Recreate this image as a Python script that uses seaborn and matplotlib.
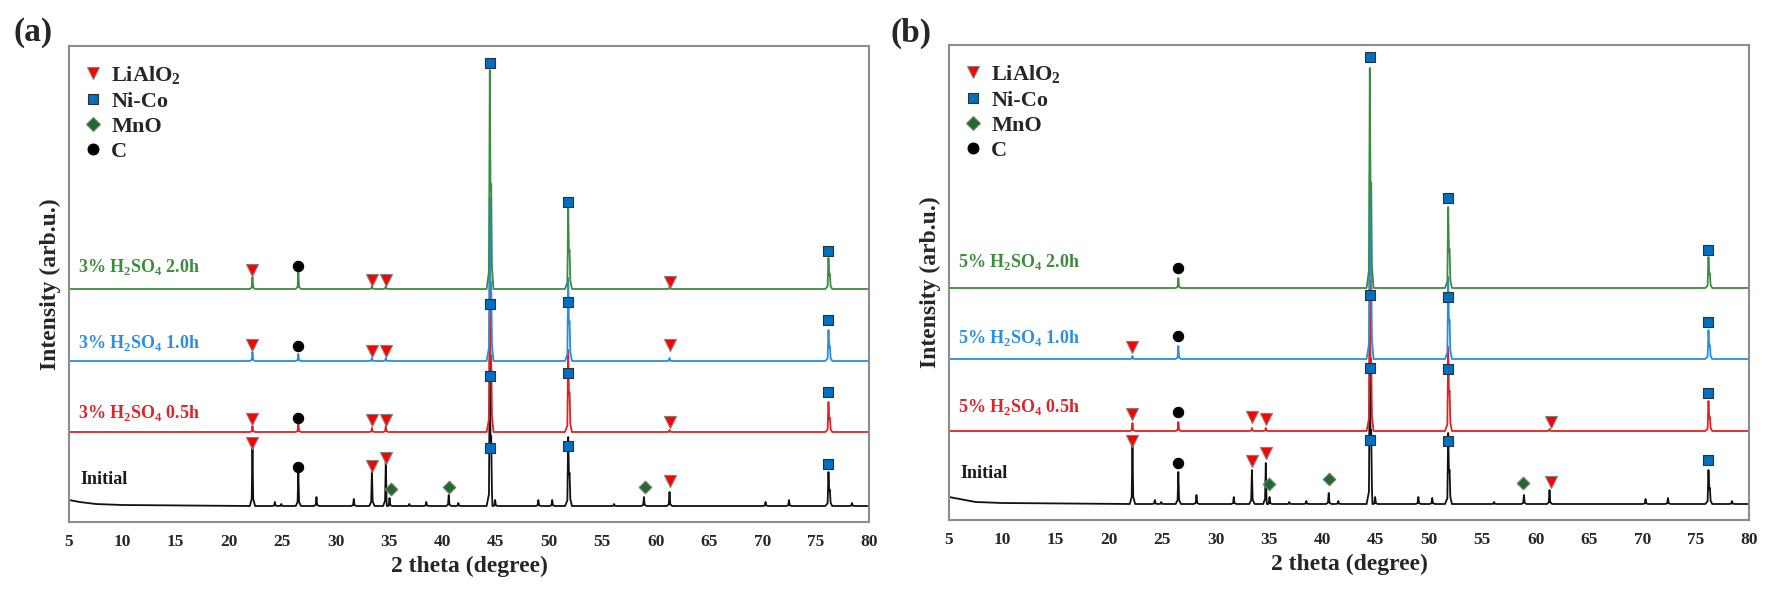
import matplotlib
matplotlib.use('Agg')
import matplotlib.pyplot as plt
from matplotlib.lines import Line2D
import pandas as pd
import seaborn as sns

# ---- data (intensity in arbitrary units, stacked offsets) ----
samples = ['Initial', '0.5h', '1.0h', '2.0h']
x_ticks = list(range(5, 81, 5))
nico_pos = [44.45, 51.8, 76.2]          # Ni-Co reflections (show K-alpha2 shoulder)

# panel (a): 3% H2SO4
a_base = [16, 90, 161, 233]
a_label_y = [43, 109, 179, 255]
a_start_initial = [(5, 22), (6, 20), (7.5, 18), (10, 17)]
a_initial = [(22.2, 75), (24.3, 20), (24.9, 18), (26.5, 50), (28.2, 25), (31.7, 23),
             (33.4, 52), (34.7, 60), (35.05, 24), (36.9, 18), (38.5, 20), (40.6, 27),
             (41.5, 19), (44.45, 162), (44.95, 22), (49.0, 22), (50.3, 22), (51.8, 85),
             (56.1, 18), (58.9, 25), (61.3, 30), (70.3, 20), (72.5, 22), (76.2, 50),
             (78.4, 19)]
a_05h = [(22.2, 96), (26.5, 98), (33.4, 94), (34.7, 96), (44.45, 249), (51.8, 172),
         (61.3, 92), (76.2, 120)]
a_10h = [(22.2, 170), (26.5, 168), (33.4, 164), (34.7, 164), (44.45, 325), (51.8, 244),
         (61.3, 164), (76.2, 192)]
a_20h = [(22.2, 245), (26.5, 250), (33.4, 236), (34.7, 236), (44.45, 452), (51.8, 314),
         (61.3, 235), (76.2, 264)]
a_lialo2 = [(22.2, 252), (33.4, 242), (34.7, 242), (61.3, 240),
            (22.2, 177), (33.4, 171), (34.7, 171), (61.3, 177),
            (22.2, 103), (33.4, 102), (34.7, 102), (61.3, 100),
            (22.2, 79), (33.4, 56), (34.7, 64), (61.3, 41)]
a_nico = [(44.45, 459), (51.8, 320), (76.2, 271),
          (44.45, 218), (51.8, 220), (76.2, 202),
          (44.45, 146), (51.8, 149), (76.2, 130),
          (44.45, 74), (51.8, 76), (76.2, 58)]
a_mno = [(35.2, 33), (40.6, 35), (59.0, 35)]
a_c = [(26.5, 256), (26.5, 176), (26.5, 104), (26.5, 55)]

# panel (b): 5% H2SO4
b_base = [16, 89, 161, 232]
b_label_y = [46, 113, 182, 258]
b_start_initial = [(5, 23), (6, 21), (7.5, 18), (10, 17)]
b_initial = [(22.2, 77), (24.3, 20), (24.9, 18), (26.5, 48), (28.2, 25), (31.7, 23),
             (33.4, 50), (34.7, 57), (35.05, 23), (36.9, 18), (38.5, 19), (40.6, 27),
             (41.5, 19), (44.45, 170), (44.95, 23), (49.0, 23), (50.3, 22), (51.8, 87),
             (56.1, 18), (58.9, 25), (61.3, 30), (70.3, 21), (72.4, 22), (76.2, 50),
             (78.4, 19)]
b_05h = [(22.2, 97), (26.5, 98), (33.4, 92), (34.7, 92), (44.45, 240), (51.8, 173),
         (61.3, 91), (76.2, 119)]
b_10h = [(22.2, 164), (26.5, 174), (44.45, 347), (51.8, 243), (76.2, 190)]
b_20h = [(26.5, 242), (44.45, 452), (51.8, 313), (76.2, 263)]
b_lialo2 = [(22.2, 173),
            (22.2, 106), (33.4, 103), (34.7, 101), (61.4, 98),
            (22.2, 79), (33.4, 59), (34.7, 67), (61.4, 38)]
b_nico = [(44.45, 463), (51.8, 322), (76.2, 270),
          (44.45, 225), (51.8, 223), (76.2, 198),
          (44.45, 152), (51.8, 151), (76.2, 127),
          (44.45, 80), (51.8, 79), (76.2, 60)]
b_mno = [(35.0, 36), (40.6, 41), (58.8, 37)]
b_c = [(26.5, 252), (26.5, 184), (26.5, 108), (26.5, 57)]

# ---- styles ----
line_colors = {'Initial': '#111111', '0.5h': '#dc2323', '1.0h': '#2a8ddc', '2.0h': '#3a8c3e'}
text_colors = {'Initial': '#1a1a1a', '0.5h': '#d9262b', '1.0h': '#2d8fe0', '2.0h': '#3c8c3c'}
phase_style = {
    'LiAlO$_\\mathbf{2}$': dict(marker='v', facecolor='#ff0000', edgecolor='#808080', s=75),
    'Ni-Co': dict(marker='s', facecolor='#0070c0', edgecolor='#303030', s=55),
    'MnO': dict(marker='D', facecolor='#1e6b2a', edgecolor='#808080', s=42),
    'C': dict(marker='o', facecolor='#000000', edgecolor='#000000', s=55),
}
SINGLE = [(-0.25, 0.0), (-0.07, 0.12), (0.0, 1.0), (0.07, 0.12), (0.25, 0.0)]
DOUBLET = [(-0.3, 0.0), (-0.08, 0.08), (0.0, 1.0), (0.07, 0.45), (0.13, 0.48),
           (0.2, 0.1), (0.35, 0.0)]

sns.set_style('white')
plt.rcParams['font.family'] = ['Liberation Serif', 'DejaVu Serif']
plt.rcParams['font.weight'] = 'bold'
plt.rcParams['mathtext.fontset'] = 'custom'
plt.rcParams['mathtext.rm'] = 'Liberation Serif:bold'
plt.rcParams['mathtext.bf'] = 'Liberation Serif:bold'


def build_trace(base, peaks, start=None):
    pts = list(start) if start else [(5, base)]
    for pos, tip in peaks:
        shape = DOUBLET if pos in nico_pos else SINGLE
        for dx, frac in shape:
            pts.append((pos + dx, base + frac * (tip - base)))
    pts.append((80, base))
    pts.sort()
    return pts


def draw_panel(ax, traces, bases, label_y, starts, markers, acid, ylim):
    rows = []
    for name, peaks, base in zip(samples, traces, bases):
        start = starts if name == 'Initial' else None
        for x, y in build_trace(base, peaks, start):
            rows.append({'theta': x, 'intensity': y, 'sample': name})
    df = pd.DataFrame(rows)
    sns.lineplot(data=df, x='theta', y='intensity', hue='sample', hue_order=samples,
                 palette=line_colors, estimator=None, sort=False, lw=1.3,
                 legend=False, ax=ax)

    for name, ly in zip(samples, label_y):
        if name == 'Initial':
            txt, lx = 'Initial', 6.1
        else:
            txt, lx = f'{acid} H$_\\mathbf{{2}}$SO$_\\mathbf{{4}}$ {name}', 5.85
        ax.text(lx, ly, txt, color=text_colors[name], fontsize=13, fontweight='bold',
                ha='left', va='center')

    handles = []
    for (label, st), pts in zip(phase_style.items(), markers):
        mdf = pd.DataFrame(pts, columns=['theta', 'intensity'])
        sns.scatterplot(data=mdf, x='theta', y='intensity', marker=st['marker'], s=st['s'],
                        color=st['facecolor'], edgecolor=st['edgecolor'], linewidth=0.8,
                        zorder=5, legend=False, ax=ax)
        handles.append(Line2D([], [], ls='', marker=st['marker'], markersize=st['s'] ** 0.5 * 1.05,
                              markerfacecolor=st['facecolor'], markeredgecolor=st['edgecolor'],
                              markeredgewidth=0.8, label=label))
    ax.legend(handles=handles, loc='upper left', bbox_to_anchor=(0.0, 0.995), frameon=False,
              handlelength=0.8, handletextpad=0.4, labelspacing=0.2, borderaxespad=0.3,
              prop={'family': 'Liberation Serif', 'weight': 'bold', 'size': 16})

    ax.set_xlim(5, 80)
    ax.set_ylim(*ylim)
    ax.set_xticks(x_ticks)
    ax.set_yticks([])
    ax.tick_params(axis='x', length=0, pad=9, labelsize=12.5)
    for t in ax.get_xticklabels():
        t.set_fontweight('bold')
    ax.set_xlabel('2 theta (degree)', fontsize=17, fontweight='bold', labelpad=4)
    ax.set_ylabel('Intensity (arb.u.)', fontsize=17, fontweight='bold', labelpad=6)
    for sp in ax.spines.values():
        sp.set_color('#8c8c8c')
        sp.set_linewidth(1.5)


fig = plt.figure(figsize=(17.73, 5.94), dpi=100)
ax_a = fig.add_axes([69 / 1773, 1 - 522 / 594, 800 / 1773, 476 / 594])
ax_b = fig.add_axes([949 / 1773, 1 - 520 / 594, 800 / 1773, 475 / 594])

draw_panel(ax_a, [a_initial, a_05h, a_10h, a_20h], a_base, a_label_y, a_start_initial,
           [a_lialo2, a_nico, a_mno, a_c], '3%', (0, 476))
draw_panel(ax_b, [b_initial, b_05h, b_10h, b_20h], b_base, b_label_y, b_start_initial,
           [b_lialo2, b_nico, b_mno, b_c], '5%', (0, 475))

fig.text(33 / 1773, 1 - 33 / 594, '(a)', fontsize=24, fontweight='bold', ha='center', va='center')
fig.text(911 / 1773, 1 - 33 / 594, '(b)', fontsize=24, fontweight='bold', ha='center', va='center')

fig.savefig('out.png', dpi=100)
